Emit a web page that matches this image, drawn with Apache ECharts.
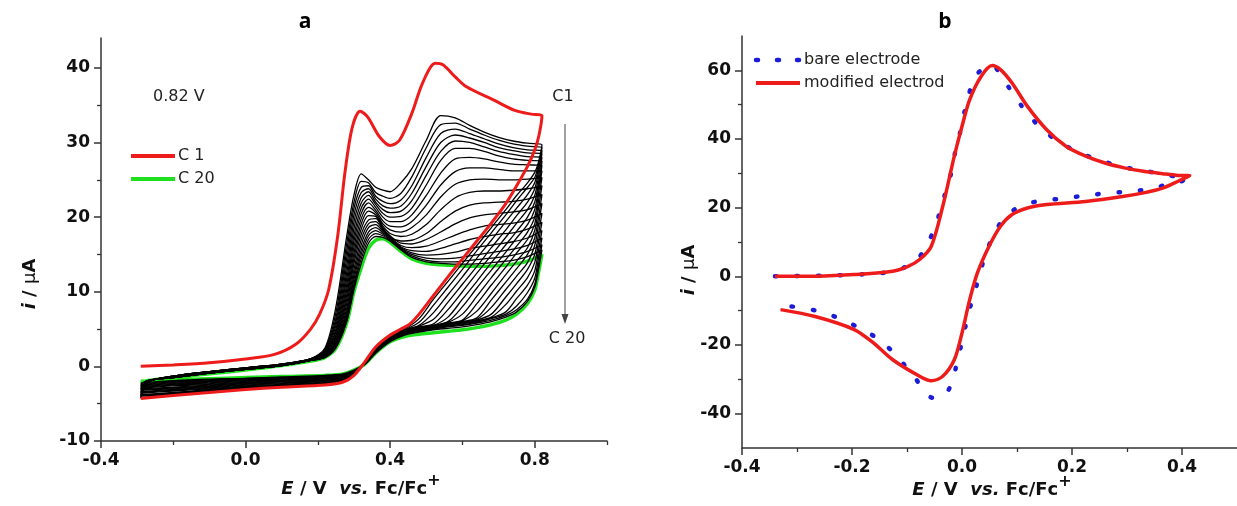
<!DOCTYPE html>
<html><head><meta charset="utf-8">
<script src="https://cdn.jsdelivr.net/npm/echarts@6.0.0/dist/echarts.min.js"></script>
<style>html,body{margin:0;padding:0;background:#fff}#chart{width:1237px;height:506px}</style>
</head><body><div id="chart"></div>
<script>
// ---------- tick values ----------
const aTickX = [-0.4, 0, 0.4, 0.8];
const aMinorX = [-0.2, 0.2, 0.6, 1.0];
const aTickY = [-10, 0, 10, 20, 30, 40];
const aMinorY = [-5, 5, 15, 25, 35];
const bTickX = [-0.4, -0.2, 0, 0.2, 0.4];
const bMinorX = [-0.3, -0.1, 0.1, 0.3];
const bTickY = [-40, -20, 0, 20, 40, 60];
const bMinorY = [-30, -10, 10, 30, 50];

// ---------- panel a : potentials of the sampled scan points ----------
const scanFwdX = [-0.29, -0.27, -0.2, -0.1, 0.0, 0.1, 0.18, 0.22, 0.25, 0.28, 0.30, 0.32, 0.34, 0.36, 0.38, 0.40, 0.43, 0.46, 0.50, 0.54, 0.58, 0.62, 0.66, 0.70, 0.74, 0.78, 0.82];
const scanRevX = [0.82, 0.81, 0.80, 0.78, 0.75, 0.72, 0.68, 0.64, 0.60, 0.56, 0.52, 0.48, 0.44, 0.40, 0.36, 0.33, 0.30, 0.27, 0.22, 0.1, 0.0, -0.1, -0.2, -0.29];

// cycle 1 (red)
const c1Forward = [[-0.29,0.0],[-0.2,0.2],[-0.1,0.5],[0.0,1.0],[0.08,1.6],[0.14,3.0],[0.18,5.0],[0.205,7.0],[0.23,10.3],[0.255,17.5],[0.275,26.0],[0.295,32.0],[0.317,34.2],[0.338,33.4],[0.37,30.8],[0.40,29.6],[0.426,30.3],[0.46,33.9],[0.49,38.0],[0.525,40.6],[0.546,40.4],[0.58,38.8],[0.61,37.5],[0.69,35.6],[0.745,34.3],[0.79,33.8],[0.82,33.6]];
const c1Reverse = [[0.82,33.6],[0.812,31.0],[0.80,29.0],[0.78,26.8],[0.75,24.2],[0.72,21.8],[0.68,19.2],[0.64,16.8],[0.60,14.4],[0.56,12.0],[0.52,9.5],[0.48,7.0],[0.455,5.7],[0.43,5.0],[0.40,4.2],[0.36,2.6],[0.33,0.6],[0.30,-1.2],[0.27,-2.1],[0.22,-2.5],[0.1,-2.8],[0.0,-3.1],[-0.1,-3.5],[-0.2,-3.9],[-0.29,-4.3]];

// cycles 2..19 (black), currents at scanFwdX / scanRevX
const cycleForward = [
 [-4.3,-2.1,-1.3,-0.7,-0.2,0.3,1.0,2.5,8.0,17.5,23.0,25.8,25.0,24.0,23.6,23.4,24.6,26.5,30.3,33.6,33.3,32.3,31.4,30.7,30.2,29.9,29.7],
 [-4.2,-2.1,-1.3,-0.7,-0.2,0.3,1.0,2.3,7.2,16.5,22.0,24.8,24.6,23.3,22.8,22.5,23.2,25.4,29.3,32.4,32.6,31.8,31.0,30.3,29.8,29.5,29.3],
 [-4.0,-2.1,-1.3,-0.7,-0.2,0.3,1.0,2.2,6.5,15.5,21.2,24.0,24.2,22.8,22.1,21.8,22.3,24.2,28.0,31.2,31.8,31.2,30.5,29.8,29.3,29.0,28.9],
 [-3.9,-2.1,-1.3,-0.7,-0.2,0.3,1.0,2.1,6.0,14.5,20.3,23.3,23.8,22.4,21.5,21.2,21.5,23.2,26.8,30.0,31.0,30.6,30.0,29.3,28.9,28.6,28.5],
 [-3.8,-2.1,-1.3,-0.7,-0.2,0.3,1.0,2.0,5.5,13.5,19.4,22.6,23.4,22.0,21.0,20.6,20.8,22.2,25.6,28.8,30.2,30.0,29.4,28.8,28.4,28.1,28.0],
 [-3.6,-2.0,-1.4,-0.8,-0.3,0.2,0.9,1.9,5.0,12.6,18.5,21.9,22.9,21.7,20.5,20.0,20.1,21.2,24.3,27.6,29.2,29.2,28.8,28.2,27.8,27.6,27.5],
 [-3.5,-2.0,-1.4,-0.8,-0.3,0.2,0.9,1.8,4.6,11.8,17.6,21.2,22.4,21.3,20.0,19.4,19.4,20.3,22.9,25.9,27.8,28.0,27.8,27.4,27.1,27.0,26.9],
 [-3.4,-2.0,-1.4,-0.8,-0.3,0.2,0.9,1.7,4.2,11.0,16.8,20.5,21.9,20.9,19.5,18.8,18.7,19.4,21.6,24.3,26.1,26.6,26.6,26.4,26.2,26.2,26.2],
 [-3.2,-2.0,-1.4,-0.8,-0.3,0.2,0.9,1.6,3.9,10.3,16.0,19.8,21.3,20.6,19.1,18.3,18.0,18.6,20.3,22.7,24.4,25.0,25.1,25.0,25.0,25.1,25.3],
 [-3.1,-2.0,-1.4,-0.8,-0.3,0.2,0.9,1.5,3.6,9.6,15.2,19.1,20.8,20.3,18.8,17.8,17.4,17.7,19.0,21.0,22.6,23.3,23.5,23.5,23.6,23.8,24.2],
 [-3.0,-2.0,-1.4,-0.8,-0.3,0.2,0.9,1.5,3.4,9.0,14.5,18.4,20.2,20.1,18.5,17.3,16.8,16.9,17.8,19.4,20.8,21.6,21.9,22.0,22.1,22.4,23.0],
 [-2.9,-1.9,-1.5,-0.9,-0.4,0.1,0.8,1.4,3.2,8.4,13.8,17.7,19.6,19.8,18.5,17.5,16.5,16.4,17.0,18.0,19.1,19.9,20.3,20.5,20.7,21.0,21.8],
 [-2.8,-1.9,-1.5,-0.9,-0.4,0.1,0.8,1.4,3.0,7.8,13.0,17.0,19.1,19.4,18.3,17.3,16.2,15.9,16.1,16.8,17.6,18.3,18.8,19.0,19.2,19.6,20.5],
 [-2.7,-1.9,-1.5,-0.9,-0.4,0.1,0.8,1.3,2.9,7.3,12.3,16.3,18.6,19.0,18.1,17.2,16.0,15.5,15.4,15.8,16.4,17.0,17.4,17.7,17.9,18.4,19.3],
 [-2.6,-1.9,-1.5,-0.9,-0.4,0.1,0.8,1.3,2.8,6.9,11.7,15.6,18.0,18.6,17.9,17.1,15.9,15.2,14.9,15.0,15.3,15.8,16.1,16.4,16.7,17.2,18.2],
 [-2.5,-1.9,-1.5,-0.9,-0.4,0.1,0.8,1.3,2.7,6.5,11.1,15.0,17.5,18.2,17.7,17.0,15.8,15.0,14.5,14.4,14.5,14.8,15.1,15.4,15.7,16.2,17.2],
 [-2.4,-1.9,-1.5,-0.9,-0.4,0.1,0.8,1.2,2.6,6.2,10.7,14.4,17.0,17.8,17.5,16.9,15.7,14.8,14.2,14.0,14.0,14.2,14.4,14.6,14.9,15.4,16.3],
 [-2.3,-1.9,-1.5,-0.9,-0.4,0.1,0.8,1.2,2.5,6.0,10.3,13.8,16.5,17.4,17.3,16.8,15.6,14.6,14.0,13.8,13.7,13.7,13.8,14.0,14.2,14.7,15.6]
];
const cycleReverse = [
 [29.7,27.3,26.0,24.6,22.9,21.0,18.6,16.2,13.8,11.4,9.0,6.4,5.0,4.2,2.5,0.6,-1.1,-2.0,-2.4,-2.7,-3.0,-3.4,-3.8,-4.2],
 [29.3,27.0,25.3,24.0,22.2,20.3,17.9,15.5,13.0,10.6,8.2,5.9,4.9,4.1,2.5,0.6,-1.1,-2.0,-2.3,-2.6,-2.9,-3.3,-3.7,-4.0],
 [28.9,26.5,24.6,23.0,21.2,19.4,16.9,14.5,12.0,9.6,7.2,5.5,4.9,4.1,2.4,0.6,-1.0,-1.9,-2.2,-2.5,-2.8,-3.2,-3.6,-3.9],
 [28.5,26.0,23.8,22.0,20.2,18.3,15.9,13.4,11.0,8.6,6.3,5.4,4.8,4.0,2.4,0.5,-1.0,-1.8,-2.2,-2.5,-2.7,-3.1,-3.5,-3.8],
 [28.0,25.3,22.9,21.0,19.2,17.3,14.9,12.5,10.0,7.6,5.7,5.3,4.8,4.0,2.3,0.5,-1.0,-1.8,-2.1,-2.4,-2.6,-3.0,-3.3,-3.6],
 [27.5,24.5,22.0,20.0,18.1,16.3,13.9,11.4,9.0,6.6,5.5,5.2,4.7,3.9,2.3,0.5,-0.9,-1.7,-2.0,-2.3,-2.5,-2.9,-3.2,-3.5],
 [26.9,23.8,21.0,19.0,17.2,15.3,12.9,10.5,8.0,6.0,5.5,5.2,4.7,3.9,2.2,0.5,-0.9,-1.7,-1.9,-2.2,-2.4,-2.8,-3.1,-3.4],
 [26.2,23.0,20.0,18.0,16.1,14.3,11.9,9.4,7.0,5.9,5.4,5.1,4.6,3.8,2.2,0.5,-0.9,-1.6,-1.9,-2.1,-2.3,-2.7,-3.0,-3.2],
 [25.3,22.0,19.1,17.0,15.2,13.3,10.9,8.4,6.2,5.8,5.4,5.1,4.6,3.8,2.1,0.4,-0.8,-1.5,-1.8,-2.0,-2.2,-2.6,-2.9,-3.1],
 [24.2,21.0,18.2,15.9,14.1,12.3,9.8,7.4,6.1,5.7,5.4,5.1,4.6,3.7,2.1,0.4,-0.8,-1.5,-1.7,-1.9,-2.2,-2.5,-2.8,-3.0],
 [23.0,19.8,17.2,15.0,13.1,11.3,8.9,6.5,6.0,5.7,5.3,5.0,4.5,3.7,2.0,0.4,-0.8,-1.4,-1.6,-1.9,-2.1,-2.4,-2.6,-2.9],
 [21.8,18.8,16.2,13.9,12.1,10.3,7.9,6.3,5.9,5.6,5.3,5.0,4.5,3.6,2.0,0.4,-0.7,-1.3,-1.6,-1.8,-2.0,-2.3,-2.5,-2.8],
 [20.5,17.6,15.0,13.0,11.1,9.3,7.0,6.2,5.9,5.6,5.3,5.0,4.5,3.6,2.0,0.4,-0.7,-1.3,-1.5,-1.7,-1.9,-2.2,-2.4,-2.7],
 [19.3,16.5,13.9,11.9,10.1,8.3,6.6,6.1,5.8,5.5,5.2,4.9,4.5,3.5,1.9,0.4,-0.7,-1.2,-1.4,-1.6,-1.8,-2.1,-2.3,-2.6],
 [18.2,15.4,12.8,10.9,9.1,7.3,6.5,6.0,5.7,5.4,5.2,4.9,4.4,3.5,1.9,0.3,-0.6,-1.2,-1.4,-1.6,-1.8,-2.0,-2.2,-2.5],
 [17.2,14.4,11.8,9.9,8.1,7.0,6.4,5.9,5.6,5.4,5.1,4.8,4.4,3.4,1.9,0.3,-0.6,-1.1,-1.3,-1.5,-1.7,-1.9,-2.1,-2.4],
 [16.3,13.5,11.0,9.0,7.6,6.8,6.2,5.8,5.5,5.3,5.0,4.7,4.3,3.4,1.8,0.3,-0.6,-1.1,-1.3,-1.5,-1.6,-1.8,-2.0,-2.3],
 [15.6,12.8,10.6,8.7,7.3,6.6,6.0,5.6,5.3,5.1,4.9,4.6,4.2,3.3,1.8,0.3,-0.5,-1.0,-1.2,-1.4,-1.6,-1.7,-1.9,-2.2]
];
// cycle 20 (green)
const c20Forward = [-2.2,-1.9,-1.5,-1.0,-0.5,0.1,0.7,1.2,2.4,5.8,10.0,13.2,15.8,16.9,17.1,16.6,15.4,14.4,13.8,13.6,13.5,13.4,13.4,13.5,13.7,14.1,15.0];
const c20Reverse = [15.0,12.4,10.2,8.4,7.0,6.2,5.6,5.2,4.9,4.7,4.5,4.3,4.0,3.3,1.8,0.3,-0.5,-1.0,-1.2,-1.35,-1.5,-1.65,-1.8,-2.0];

// ---------- panel b ----------
const bareElectrode = [[-0.34,0.0],[-0.25,0.2],[-0.17,0.7],[-0.119,1.7],[-0.081,5.0],[-0.058,11.0],[-0.044,16.8],[-0.033,22.8],[-0.022,28.6],[-0.014,35.0],[-0.005,40.8],[0.003,46.8],[0.012,52.7],[0.025,58.5],[0.053,61.5],[0.083,55.5],[0.11,49.3],[0.142,43.4],[0.178,39.0],[0.215,35.9],[0.253,33.7],[0.288,32.0],[0.325,30.9],[0.361,29.9],[0.396,28.9],[0.41,28.8],[0.396,27.5],[0.359,26.2],[0.323,25.0],[0.288,24.5],[0.25,24.0],[0.214,23.3],[0.178,22.6],[0.14,21.9],[0.104,20.4],[0.07,15.5],[0.05,9.4],[0.037,3.4],[0.027,-2.4],[0.016,-8.3],[0.007,-14.1],[-0.002,-20.4],[-0.011,-26.5],[-0.021,-32.0],[-0.035,-35.0],[-0.053,-35.4],[-0.07,-33.0],[-0.084,-29.9],[-0.12,-23.0],[-0.151,-18.4],[-0.187,-15.0],[-0.225,-12.1],[-0.26,-10.2],[-0.298,-9.0],[-0.33,-8.5]];
const modifiedElectrode = [[-0.34,0.0],[-0.25,0.1],[-0.196,0.5],[-0.126,1.5],[-0.098,2.9],[-0.077,4.9],[-0.056,8.7],[-0.035,20.4],[-0.014,35.0],[0.0,43.7],[0.014,51.5],[0.035,58.3],[0.055,61.4],[0.07,60.2],[0.091,56.3],[0.119,49.5],[0.154,42.7],[0.189,37.9],[0.225,35.0],[0.26,33.0],[0.295,31.6],[0.33,30.6],[0.365,29.9],[0.393,29.4],[0.414,29.3],[0.393,27.7],[0.365,25.7],[0.33,24.3],[0.295,23.3],[0.225,21.8],[0.154,20.9],[0.119,19.9],[0.091,18.0],[0.07,14.6],[0.049,8.7],[0.028,1.0],[0.014,-6.8],[0.0,-16.5],[-0.014,-24.3],[-0.035,-29.1],[-0.056,-30.4],[-0.077,-29.1],[-0.126,-24.3],[-0.161,-19.4],[-0.196,-15.5],[-0.267,-11.7],[-0.33,-9.7]];

// ---------- build ----------
function scan(f, r) {
  const pts = scanFwdX.map((x, i) => [x, f[i]]);
  scanRevX.forEach((x, i) => { if (i > 0) pts.push([x, r[i]]); });
  return pts;
}
const AX = '#333';
const labelFont = {color: '#111', fontFamily: 'DejaVu Sans', fontWeight: 'bold', fontSize: 17};
function axisPair(dim, grid, min, max, ticks, minor, fmt) {
  const pos = dim === 'x' ? 'bottom' : 'left';
  return [
    {type: 'value', gridIndex: grid, min, max, position: pos,
     axisLine: {show: true, onZero: false, lineStyle: {color: AX, width: 1.5}},
     axisTick: {show: true, customValues: ticks, length: 7, lineStyle: {color: AX, width: 1.5}},
     axisLabel: Object.assign({customValues: ticks, formatter: fmt, margin: 11}, labelFont),
     splitLine: {show: false}},
    {type: 'value', gridIndex: grid, min, max, position: pos,
     axisLine: {show: false, onZero: false},
     axisTick: {show: true, customValues: minor, length: 4, lineStyle: {color: AX, width: 1.3}},
     axisLabel: {show: false}, splitLine: {show: false}}
  ];
}
const f1 = v => v.toFixed(1);
const f0 = v => String(Math.round(v));
const xAxes = axisPair('x', 0, -0.4, 1.0, aTickX, aMinorX, f1).concat(axisPair('x', 1, -0.4, 0.5, bTickX, bMinorX, f1));
const yAxes = axisPair('y', 0, -10, 44, aTickY, aMinorY, f0).concat(axisPair('y', 1, -50, 70, bTickY, bMinorY, f0));

const base = {type: 'line', symbol: 'none', showSymbol: false, smooth: 0.3, silent: true, animation: false};
const series = [];
series.push(Object.assign({}, base, {xAxisIndex: 0, yAxisIndex: 0, data: scan(c20Forward, c20Reverse), lineStyle: {color: '#1fe01f', width: 3.4}}));
cycleForward.forEach((f, k) => {
  series.push(Object.assign({}, base, {xAxisIndex: 0, yAxisIndex: 0, data: scan(f, cycleReverse[k]), lineStyle: {color: '#000', width: 1.3}}));
});
series.push(Object.assign({}, base, {xAxisIndex: 0, yAxisIndex: 0, data: c1Forward.concat(c1Reverse.slice(1)), lineStyle: {color: '#ee1b1b', width: 3}}));
series.push(Object.assign({}, base, {xAxisIndex: 2, yAxisIndex: 2, data: bareElectrode, lineStyle: {color: '#1c1cd8', width: 4.5, type: [1.5, 20], cap: 'round'}}));
series.push(Object.assign({}, base, {xAxisIndex: 2, yAxisIndex: 2, data: modifiedElectrode, lineStyle: {color: '#ee1b1b', width: 3.5}}));

const F = '"DejaVu Sans"';
const rich = {
  n: {fontFamily: 'DejaVu Sans', fontWeight: 'bold', fontSize: 18, fill: '#111', color: '#111', lineHeight: 32},
  i: {fontFamily: 'DejaVu Sans', fontWeight: 'bold', fontStyle: 'italic', fontSize: 18, fill: '#111', color: '#111', lineHeight: 32},
  m: {fontFamily: 'DejaVu Sans', fontWeight: 'normal', fontSize: 18, fill: '#111', color: '#111', lineHeight: 32},
  s: {fontFamily: 'DejaVu Sans', fontWeight: 'bold', fontSize: 16, fill: '#111', color: '#111', verticalAlign: 'top', lineHeight: 16}
};
function txt(x, y, text, font, align) {
  return {type: 'text', x, y, silent: true,
    style: {text, font, fill: '#222', align: align || 'left', textAlign: align || 'left', verticalAlign: 'middle', textVerticalAlign: 'middle'}};
}
function richTxt(x, y, text, rot) {
  return {type: 'text', x, y, rotation: rot || 0, silent: true,
    style: {text, rich, font: 'bold 18px ' + F, fill: '#111', align: 'center', textAlign: 'center', verticalAlign: 'middle', textVerticalAlign: 'middle'}};
}
const xTitle = '{i|E}{n| / V  }{i|vs.}{n| Fc/Fc}{s|+}';
const yTitle = '{i|i}{n| / }{m|μ}{n|A}';
const graphic = [
  {type: 'text', x: 305, y: 22, silent: true, style: {text: 'a', font: 'bold 21px "Open Sans"', fill: '#000', align: 'center', textAlign: 'center', verticalAlign: 'middle', textVerticalAlign: 'middle'}},
  {type: 'text', x: 945, y: 22, silent: true, style: {text: 'b', font: 'bold 21px "Open Sans"', fill: '#000', align: 'center', textAlign: 'center', verticalAlign: 'middle', textVerticalAlign: 'middle'}},
  richTxt(361, 489, xTitle, 0),
  richTxt(992, 490, xTitle, 0),
  richTxt(30, 284, yTitle, Math.PI / 2),
  richTxt(689, 270, yTitle, Math.PI / 2),
  txt(153, 97, '0.82 V', '16px ' + F),
  {type: 'line', silent: true, shape: {x1: 131, y1: 156, x2: 175, y2: 156}, style: {stroke: '#ee1b1b', lineWidth: 4}},
  {type: 'line', silent: true, shape: {x1: 131, y1: 179, x2: 175, y2: 179}, style: {stroke: '#1fe01f', lineWidth: 4}},
  txt(178, 156, 'C 1', '16px ' + F),
  txt(178, 179, 'C 20', '16px ' + F),
  txt(563, 97, 'C1', '16px ' + F, 'center'),
  txt(567, 339, 'C 20', '16px ' + F, 'center'),
  {type: 'line', silent: true, shape: {x1: 565, y1: 124, x2: 565, y2: 316}, style: {stroke: '#444', lineWidth: 1}},
  {type: 'polygon', silent: true, shape: {points: [[561.5, 314], [568.5, 314], [565, 324]]}, style: {fill: '#444'}},
  {type: 'line', silent: true, shape: {x1: 756, y1: 60, x2: 758, y2: 60}, style: {stroke: '#1c1cd8', lineWidth: 4.5, lineCap: 'round'}},
  {type: 'line', silent: true, shape: {x1: 777, y1: 60, x2: 779, y2: 60}, style: {stroke: '#1c1cd8', lineWidth: 4.5, lineCap: 'round'}},
  {type: 'line', silent: true, shape: {x1: 797, y1: 60, x2: 799, y2: 60}, style: {stroke: '#1c1cd8', lineWidth: 4.5, lineCap: 'round'}},
  txt(804, 60, 'bare electrode', '16px ' + F),
  {type: 'line', silent: true, shape: {x1: 756, y1: 83, x2: 800, y2: 83}, style: {stroke: '#ee1b1b', lineWidth: 4}},
  txt(804, 83, 'modified electrod', '16px ' + F)
];

const chart = echarts.init(document.getElementById('chart'), null, {renderer: 'canvas'});
chart.setOption({
  animation: false,
  backgroundColor: '#fff',
  textStyle: {fontFamily: 'DejaVu Sans'},
  grid: [
    {left: 101, right: 630, top: 38, bottom: 65},
    {left: 742, right: -10, top: 36, bottom: 58}
  ],
  xAxis: xAxes,
  yAxis: yAxes,
  series,
  graphic
});
</script></body></html>
